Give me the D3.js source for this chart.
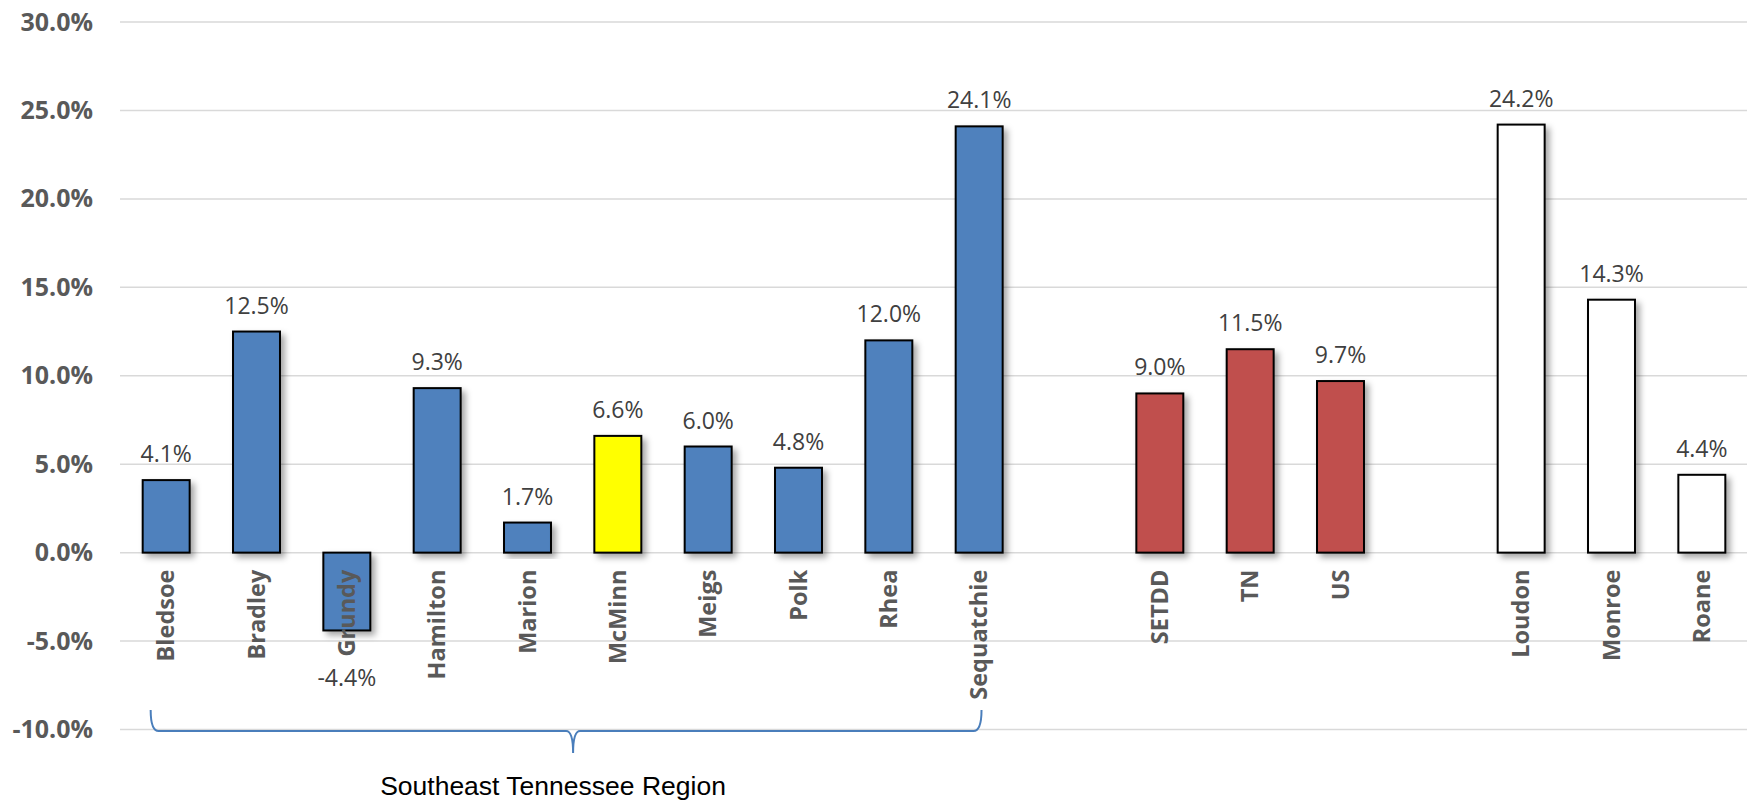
<!DOCTYPE html>
<html>
<head>
<meta charset="utf-8">
<script src="https://cdn.jsdelivr.net/npm/d3@7/dist/d3.min.js"></script>
<style>
  html, body { margin: 0; padding: 0; background: #fff; }
  svg { display: block; }
</style>
</head>
<body>
<svg id="chart" width="1747" height="803"></svg>
<script>
// Catégories (les chaînes vides sont les espaces entre groupes)
const categories = ["Bledsoe", "Bradley", "Grundy", "Hamilton", "Marion", "McMinn",
  "Meigs", "Polk", "Rhea", "Sequatchie", "", "SETDD", "TN", "US", " ", "Loudon", "Monroe", "Roane"];

// Valeurs en pourcentage (null = pas de barre)
const values = [4.1, 12.5, -4.4, 9.3, 1.7, 6.6, 6.0, 4.8, 12.0, 24.1, null,
  9.0, 11.5, 9.7, null, 24.2, 14.3, 4.4];

// Groupe de chaque catégorie, pour la couleur
const groups = ["region", "region", "region", "region", "region", "focus",
  "region", "region", "region", "region", "", "compare", "compare", "compare", "",
  "neighbor", "neighbor", "neighbor"];

const yTicks = [-10, -5, 0, 5, 10, 15, 20, 25, 30];
const regionLabel = "Southeast Tennessee Region";
const regionFirst = "Bledsoe";
const regionLast = "Sequatchie";

const colors = { region: "#4F81BD", focus: "#FFFF00", compare: "#C0504D", neighbor: "#FFFFFF" };

const svg = d3.select("#chart");
const data = categories.map((c, i) => ({ name: c, value: values[i], group: groups[i] }));

const x = d3.scaleBand()
  .domain(categories)
  .range([121, 1747])
  .paddingInner(0.48)
  .paddingOuter(0.24);

const y = d3.scaleLinear()
  .domain([-10, 30])
  .range([729.5, 22]);

// Ombre portée des barres
const defs = svg.append("defs");
defs.append("filter")
  .attr("id", "shadow")
  .attr("x", "-30%").attr("y", "-10%")
  .attr("width", "160%").attr("height", "130%")
  .append("feDropShadow")
  .attr("dx", 4).attr("dy", 4)
  .attr("stdDeviation", 3)
  .attr("flood-color", "#000")
  .attr("flood-opacity", 0.35);

// Quadrillage horizontal
svg.append("g")
  .selectAll("line")
  .data(yTicks)
  .join("line")
  .attr("x1", 120).attr("x2", 1747)
  .attr("y1", d => y(d)).attr("y2", d => y(d))
  .attr("stroke", "#D9D9D9")
  .attr("stroke-width", 1.5);

// Axe vertical (étiquettes seulement)
const yAxis = svg.append("g")
  .attr("transform", "translate(120,0)")
  .call(d3.axisLeft(y).tickValues(yTicks).tickFormat(d => d.toFixed(1) + "%").tickSize(0).tickPadding(27));
yAxis.select(".domain").remove();
yAxis.selectAll("text")
  .attr("font-family", "'Open Sans', sans-serif")
  .attr("font-weight", "bold")
  .attr("font-size", 25)
  .attr("fill", "#595959");

const bars = data.filter(d => d.value !== null);

// Barres
svg.append("g")
  .selectAll("rect")
  .data(bars)
  .join("rect")
  .attr("x", d => x(d.name))
  .attr("width", x.bandwidth())
  .attr("y", d => y(Math.max(0, d.value)))
  .attr("height", d => Math.abs(y(d.value) - y(0)))
  .attr("fill", d => colors[d.group])
  .attr("stroke", "#000")
  .attr("stroke-width", 2)
  .attr("filter", "url(#shadow)");

// Étiquettes de valeurs
svg.append("g")
  .selectAll("text")
  .data(bars)
  .join("text")
  .attr("x", d => x(d.name) + x.bandwidth() / 2)
  .attr("y", d => d.value >= 0 ? y(d.value) - 18 : y(d.value) + 56)
  .attr("text-anchor", "middle")
  .attr("font-family", "'Open Sans', sans-serif")
  .attr("font-size", 23)
  .attr("fill", "#404040")
  .text(d => d.value.toFixed(1) + "%");

// Étiquettes des catégories, verticales
svg.append("g")
  .selectAll("text")
  .data(bars)
  .join("text")
  .attr("transform", d => `translate(${x(d.name) + x.bandwidth() / 2 + 8},${y(0) + 17}) rotate(-90)`)
  .attr("text-anchor", "end")
  .attr("font-family", "'Open Sans', sans-serif")
  .attr("font-weight", "bold")
  .attr("font-size", 23.5)
  .attr("fill", "#595959")
  .text(d => d.name);

// Accolade sous la région
const bx0 = x(regionFirst) + x.bandwidth() * 0.17;
const bx1 = x(regionLast) + x.bandwidth() * 0.55;
const bm = (bx0 + bx1) / 2 + 7;
const by = 731, bTop = 710, bTip = 753;
svg.append("path")
  .attr("d", `M${bx0},${bTop} Q${bx0},${by} ${bx0 + 8},${by} L${bm - 7},${by} Q${bm},${by} ${bm},${bTip}`
    + ` M${bm},${bTip} Q${bm},${by} ${bm + 7},${by} L${bx1 - 8},${by} Q${bx1},${by} ${bx1},${bTop}`)
  .attr("fill", "none")
  .attr("stroke", "#4A7EBB")
  .attr("stroke-width", 2);

svg.append("text")
  .attr("x", 553)
  .attr("y", 795)
  .attr("text-anchor", "middle")
  .attr("font-family", "'Liberation Sans', Arial, sans-serif")
  .attr("font-size", 26.5)
  .attr("fill", "#000")
  .text(regionLabel);
</script>
</body>
</html>
